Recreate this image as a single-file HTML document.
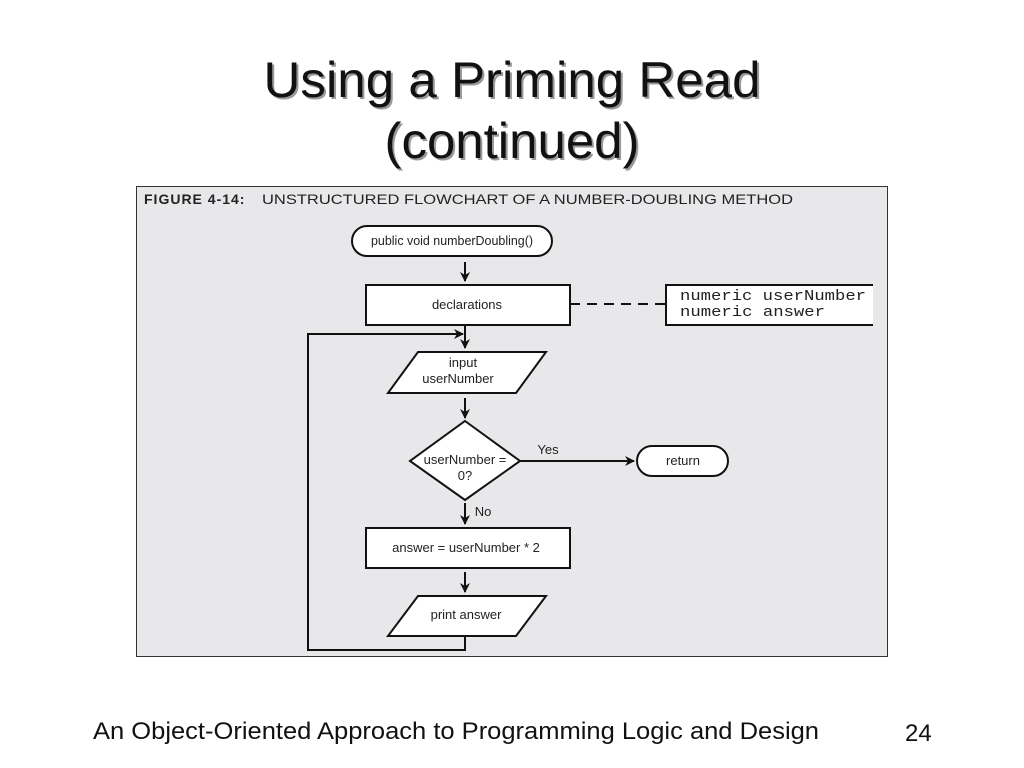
<!DOCTYPE html>
<html><head><meta charset="utf-8"><style>
html,body{margin:0;padding:0;background:#fff;}
svg{display:block;}
</style></head><body>
<svg width="1024" height="768" viewBox="0 0 1024 768" xmlns="http://www.w3.org/2000/svg" font-family="Liberation Sans, Arial, sans-serif">
<defs>
<marker id="a" markerWidth="10" markerHeight="10" refX="9" refY="5" orient="auto" markerUnits="userSpaceOnUse">
<path d="M0,0 L10,5 L0,10 L3,5 Z" fill="#111"/>
</marker>
</defs>
<g font-size="50" text-anchor="middle">
<text x="514" y="99" fill="#999" textLength="497" lengthAdjust="spacingAndGlyphs">Using a Priming Read</text>
<text x="512" y="97" fill="#111" textLength="497" lengthAdjust="spacingAndGlyphs">Using a Priming Read</text>
<text x="514" y="160" fill="#999" textLength="255" lengthAdjust="spacingAndGlyphs">(continued)</text>
<text x="512" y="158" fill="#111" textLength="255" lengthAdjust="spacingAndGlyphs">(continued)</text>
</g>
<rect x="136.5" y="186.5" width="751" height="470" fill="#e8e8ea" stroke="#333" stroke-width="1"/>
<text x="144" y="204" font-size="14" font-weight="bold" fill="#222" letter-spacing="1">FIGURE 4-14:</text>
<text x="262" y="204" font-size="14" fill="#222" textLength="531" lengthAdjust="spacingAndGlyphs">UNSTRUCTURED FLOWCHART OF A NUMBER-DOUBLING METHOD</text>
<g stroke="#111" stroke-width="2" fill="#fff">
<rect x="352" y="226" width="200" height="30" rx="15"/>
<rect x="366" y="285" width="204" height="40"/>
<polyline points="873,285 666,285 666,325 873,325" fill="#fff"/>
<polygon points="418,352 546,352 516,393 388,393"/>
<polygon points="465,421 520,461 465,500 410,461"/>
<rect x="637" y="446" width="91" height="30" rx="15"/>
<rect x="366" y="528" width="204" height="40"/>
<polygon points="418,596 546,596 516,636 388,636"/>
</g>
<g stroke="#111" stroke-width="2" fill="none">
<line x1="570" y1="304" x2="666" y2="304" stroke-dasharray="10,7"/>
<line x1="465" y1="262" x2="465" y2="281" marker-end="url(#a)"/>
<line x1="465" y1="326" x2="465" y2="348" marker-end="url(#a)"/>
<polyline points="465,636 465,650 308,650 308,334 463,334" marker-end="url(#a)"/>
<line x1="465" y1="398" x2="465" y2="418" marker-end="url(#a)"/>
<line x1="520" y1="461" x2="634" y2="461" marker-end="url(#a)"/>
<line x1="465" y1="503" x2="465" y2="524" marker-end="url(#a)"/>
<line x1="465" y1="572" x2="465" y2="592" marker-end="url(#a)"/>
</g>
<g font-size="13" fill="#222" text-anchor="middle">
<text x="452" y="245" textLength="162" lengthAdjust="spacingAndGlyphs">public void numberDoubling()</text>
<text x="467" y="309">declarations</text>
<text x="463" y="367">input</text>
<text x="458" y="383">userNumber</text>
<text x="465" y="464">userNumber =</text>
<text x="465" y="480">0?</text>
<text x="548" y="454">Yes</text>
<text x="683" y="465">return</text>
<text x="483" y="516">No</text>
<text x="466" y="552">answer = userNumber * 2</text>
<text x="466" y="619">print answer</text>
</g>
<g font-family="Liberation Mono, monospace" font-size="15" fill="#222">
<text x="680" y="300" textLength="186" lengthAdjust="spacingAndGlyphs">numeric userNumber</text>
<text x="680" y="316" textLength="145" lengthAdjust="spacingAndGlyphs">numeric answer</text>
</g>
<text x="93" y="739" font-size="24" fill="#111" textLength="726" lengthAdjust="spacingAndGlyphs">An Object-Oriented Approach to Programming Logic and Design</text>
<text x="905" y="741" font-size="24" fill="#111">24</text>
</svg>
</body></html>
